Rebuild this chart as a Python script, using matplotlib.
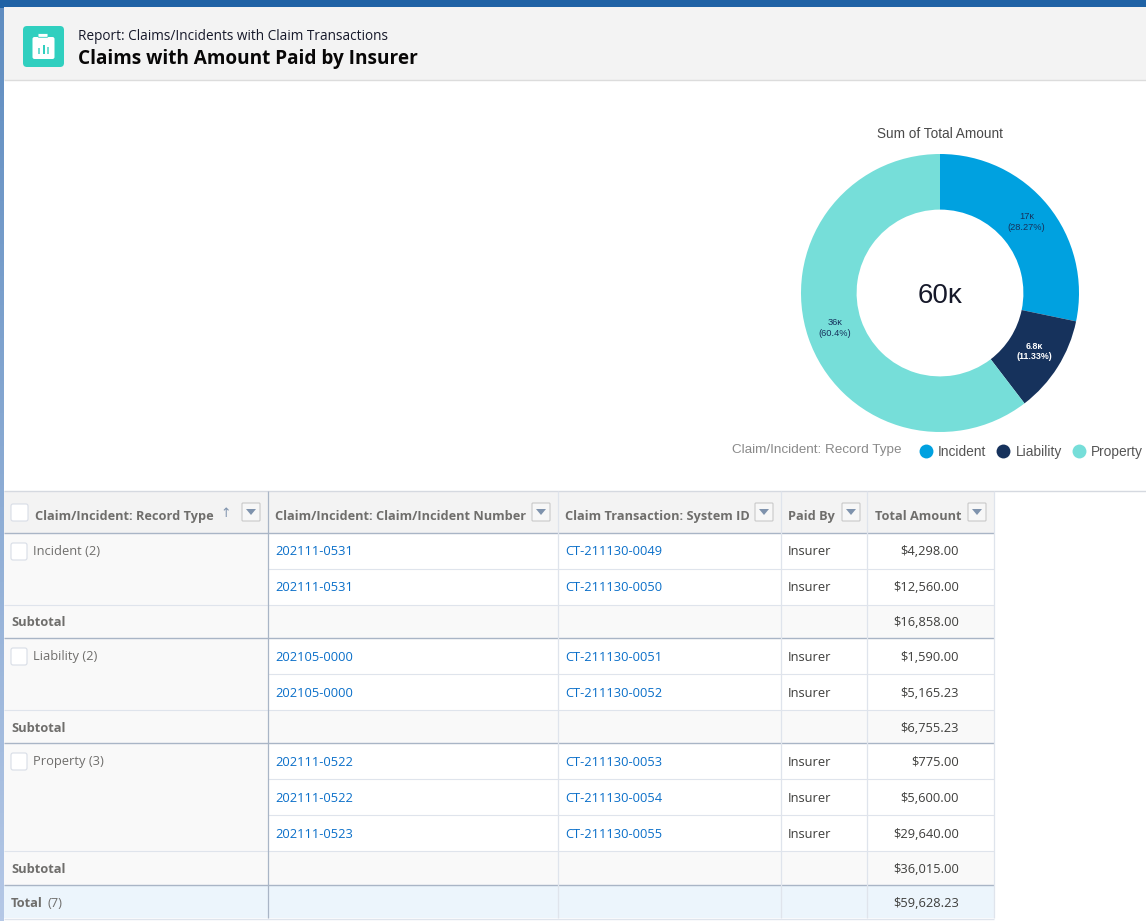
import numpy as np
import matplotlib
matplotlib.use('Agg')
import matplotlib.pyplot as plt
from matplotlib.patches import Rectangle, FancyBboxPatch

# chart data
record_types = ['Incident', 'Liability', 'Property']
totals = [16858.00, 6755.23, 36015.00]
slice_labels = ['17κ\n(28.27%)', '6.8κ\n(11.33%)', '36κ\n(60.4%)']
slice_colors = ['#00a1e0', '#16325c', '#76ded9']
label_colors = ['#16325c', '#ffffff', '#16325c']
label_weights = ['normal', 'bold', 'normal']
center_label = '60κ'

# report table
report_type = 'Report: Claims/Incidents with Claim Transactions'
report_name = 'Claims with Amount Paid by Insurer'
headers = ['Claim/Incident: Record Type', 'Claim/Incident: Claim/Incident Number',
           'Claim Transaction: System ID', 'Paid By', 'Total Amount']
groups = ['Incident (2)', 'Liability (2)', 'Property (3)']
claim_numbers = [['202111-0531', '202111-0531'],
                 ['202105-0000', '202105-0000'],
                 ['202111-0522', '202111-0522', '202111-0523']]
system_ids = [['CT-211130-0049', 'CT-211130-0050'],
              ['CT-211130-0051', 'CT-211130-0052'],
              ['CT-211130-0053', 'CT-211130-0054', 'CT-211130-0055']]
amounts = [['$4,298.00', '$12,560.00'],
           ['$1,590.00', '$5,165.23'],
           ['$775.00', '$5,600.00', '$29,640.00']]
subtotals = ['$16,858.00', '$6,755.23', '$36,015.00']
grand_total = '$59,628.23'
paid_by = 'Insurer'

W, H = 1146, 921
UI = 'Open Sans'
CHART = 'Liberation Sans'
LINK = '#0a6fc9'
TEXT = '#3e3e3c'
GREY = '#6f6e6c'
LIGHT = '#dfe4ec'
HEAVY = '#a9b5c6'

fig = plt.figure(figsize=(W / 100, H / 100), dpi=100, facecolor='white')
ax = fig.add_axes([0, 0, 1, 1])
ax.set_xlim(0, W)
ax.set_ylim(H, 0)
ax.axis('off')


def box(x0, y0, x1, y1, color, z=1):
    ax.add_patch(Rectangle((x0, y0), x1 - x0, y1 - y0, fc=color, lw=0, zorder=z))


def hline(y, x0, x1, color=LIGHT, lw=0.8):
    ax.plot([x0, x1], [y, y], color=color, lw=lw, zorder=3, solid_capstyle='butt')


def vline(x, y0, y1, color=LIGHT, lw=0.8):
    ax.plot([x, x], [y0, y1], color=color, lw=lw, zorder=3, solid_capstyle='butt')


def label(x, y, s, color=TEXT, size=9.3, weight='normal', ha='left', family=UI):
    ax.text(x, y, s, color=color, fontsize=size, fontweight=weight, ha=ha, va='center',
            family=family, zorder=5)


def checkbox(x0, y0, x1, y1):
    ax.add_patch(FancyBboxPatch((x0 + 2, y0 + 2), x1 - x0 - 4, y1 - y0 - 4,
                                boxstyle='round,pad=2,rounding_size=2',
                                fc='white', ec='#d8dde6', lw=0.8, zorder=4))


def filter_button(x0):
    ax.add_patch(FancyBboxPatch((x0 + 1, 504), 16, 16, boxstyle='round,pad=1,rounding_size=1',
                                fc='#f7f7f7', ec='#c9c9c9', lw=0.8, zorder=4))
    ax.fill([x0 + 4, x0 + 14, x0 + 9], [509, 509, 515], color='#7f93ad', lw=0, zorder=5)


# page background and header
ax.imshow(np.linspace(0, 1, 256).reshape(-1, 1), extent=(0, 4, H, 0), aspect='auto', zorder=0,
          cmap=matplotlib.colors.LinearSegmentedColormap.from_list('bg', ['#5e8cc0', '#b5c8e6']))
box(0, 0, W, 8, '#1f62a5', z=1)
ax.set_xlim(0, W)
ax.set_ylim(H, 0)
box(4, 7, W, 80, '#f3f3f3', z=2)
hline(80.5, 4, W, '#dcdcdc', 1.0)

ax.add_patch(FancyBboxPatch((26, 29), 35, 35, boxstyle='round,pad=3,rounding_size=4',
                            fc='#30cfbf', lw=0, zorder=3))
ax.add_patch(FancyBboxPatch((34, 38.5), 19, 19, boxstyle='round,pad=1.5,rounding_size=2',
                            fc='white', lw=0, zorder=4))
ax.add_patch(FancyBboxPatch((39, 34.5), 8, 1.8, boxstyle='round,pad=1,rounding_size=1',
                            fc='white', ec='#30cfbf', lw=0.6, zorder=5))
box(38, 48, 40, 54, '#6fddd2', z=5)
box(42.5, 45, 44.5, 54, '#30cfbf', z=5)
box(47, 47, 49, 54, '#6fddd2', z=5)

label(78, 37, report_type, color='#16192a', size=9.8)
label(78, 59, report_name, color='#080707', size=13.7, weight='bold')

# donut chart
donut = fig.add_axes([801 / W, 1 - 432 / H, 278 / W, 278 / H])
wedges, _ = donut.pie(totals, colors=slice_colors, startangle=90, counterclock=False, radius=1,
                      wedgeprops={'width': 0.4, 'linewidth': 0})
donut.set_xlim(-1, 1)
donut.set_ylim(-1, 1)
for wedge, text, color, weight in zip(wedges, slice_labels, label_colors, label_weights):
    angle = np.deg2rad((wedge.theta1 + wedge.theta2) / 2)
    donut.text(0.8 * np.cos(angle), 0.8 * np.sin(angle) + 0.005, text, color=color,
               fontsize=6.4 if weight == 'bold' else 6.7, fontweight=weight,
               ha='center', va='center', family=CHART, linespacing=1.2)
donut.text(0, -0.02, center_label, color='#16192a', fontsize=20, ha='center', va='center', family=CHART)

label(940, 134, 'Sum of Total Amount', color='#4a4a4a', size=9.8, ha='center', family=CHART)
label(732, 450, 'Claim/Incident: Record Type', color='#8a8a8a', size=9.7, family=CHART)
for name, color, cx, tx in zip(record_types, slice_colors, [925.5, 1003, 1079], [938, 1016, 1091]):
    ax.scatter([cx], [451], s=100, color=color, lw=0, zorder=5)
    label(tx, 452, name, color='#555555', size=9.9, family=CHART)

# table
col_x = [3.5, 267.5, 557.5, 780.5, 866.5, 993.5]
header_top, header_bottom = 491, 533
row_tops = [[533, 568.5, 604.5], [638, 674, 710], [743, 779, 815, 851]]
sub_bottoms = [638, 743, 885]
total_bottom = 918

hline(491, 4, W, '#d5d9e0', 1.0)
box(col_x[0], header_top, col_x[5], header_bottom, '#f3f3f3', z=2)
checkbox(11, 504, 28, 521)
header_y = 516.5
label(35, header_y, headers[0], color=GREY, size=9.2, weight='bold')
ax.text(226, 513, '↑', color='#7f93ad', fontsize=9, ha='center', va='center',
        family='DejaVu Sans', zorder=5)
filter_button(242)
label(275, header_y, headers[1], color=GREY, size=9.2, weight='bold')
filter_button(532)
label(565, header_y, headers[2], color=GREY, size=9.2, weight='bold')
filter_button(755)
label(788, header_y, headers[3], color=GREY, size=9.2, weight='bold')
filter_button(842)
label(875, header_y, headers[4], color=GREY, size=9.2, weight='bold')
filter_button(968)

for g, group in enumerate(groups):
    tops = row_tops[g]
    box(col_x[0], tops[0], col_x[1], tops[-1], '#f9f9f9', z=2)
    box(col_x[0], tops[-1], col_x[5], sub_bottoms[g], '#f9f9f9', z=2)
    checkbox(11, tops[0] + 10, 27, tops[0] + 27)
    label(33, tops[0] + 18.5, group, color=GREY)
    for r in range(len(tops) - 1):
        cy = (tops[r] + tops[r + 1]) / 2 + 1
        label(275, cy, claim_numbers[g][r], color=LINK)
        label(565, cy, system_ids[g][r], color=LINK)
        label(788, cy, paid_by)
        label(959, cy, amounts[g][r], ha='right')
        hline(tops[r + 1], col_x[1], col_x[5])
    hline(tops[-1], col_x[0], col_x[1])
    sub_y = (tops[-1] + sub_bottoms[g]) / 2 + 1.5
    label(11, sub_y, 'Subtotal', color=GREY, weight='bold')
    label(959, sub_y, subtotals[g], ha='right')
    hline(sub_bottoms[g], col_x[0], col_x[5], HEAVY, 1.0)

box(col_x[0], sub_bottoms[2], col_x[5], total_bottom, '#ecf5fc', z=2)
label(11, 903.5, 'Total', color=GREY, weight='bold')
label(47, 903.5, '(7)', color=GREY)
label(959, 903.5, grand_total, ha='right')
hline(header_bottom, col_x[0], col_x[5], HEAVY, 1.0)
hline(total_bottom + 0.5, col_x[0], col_x[5], LIGHT, 1.0)
vline(col_x[1], header_top, total_bottom, HEAVY, 0.9)
for x in col_x[2:]:
    vline(x, header_top, total_bottom, LIGHT, 0.9)

fig.savefig('out.png', dpi=100)
